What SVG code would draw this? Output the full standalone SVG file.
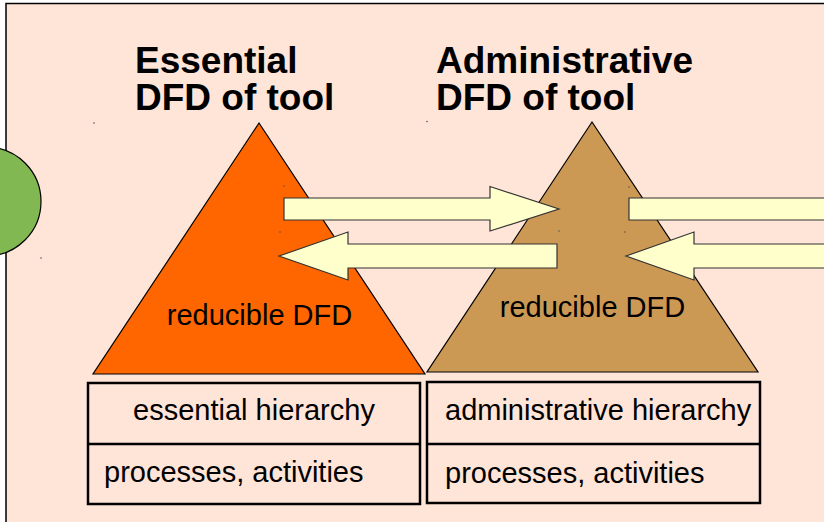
<svg xmlns="http://www.w3.org/2000/svg" width="824" height="522" viewBox="0 0 824 522">
<style>
.title{font-family:"Liberation Sans",Arial,sans-serif;font-weight:bold;font-size:37px;fill:#000}
.lbl{font-family:"Liberation Sans",Arial,sans-serif;font-size:29px;fill:#000}
.tri{stroke:#000;stroke-width:1.2;stroke-linejoin:miter}
.arrow{fill:#FFFFCC;stroke:#333;stroke-width:1.2;stroke-linejoin:miter}
.box{fill:none;stroke:#000;stroke-width:2.5}
.dot{fill:#555}
</style>
<rect x="0" y="0" width="824" height="522" fill="#fff"/>
<rect id="background" x="6" y="3.5" width="830" height="530" fill="#FFE4D8" stroke="#000" stroke-width="1.5"/>
<g id="circle">
<circle cx="-13.5" cy="201.5" r="54.5" fill="#81B851" stroke="#000" stroke-width="1.2"/>
</g>
<g id="essential-title">
<text class="title" x="135" y="73">Essential</text>
<text class="title" x="135" y="110">DFD of tool</text>
</g>
<g id="administrative-title">
<text class="title" x="436" y="73">Administrative</text>
<text class="title" x="436" y="110">DFD of tool</text>
</g>
<g id="essential-triangle">
<polygon class="tri" points="259,123 425,374 93,374" fill="#FF6600"/>
<text class="lbl" x="259.5" y="325" text-anchor="middle">reducible DFD</text>
</g>
<g id="administrative-triangle">
<polygon class="tri" points="592,122 758,372 427,372" fill="#CC9955"/>
<text class="lbl" x="592.5" y="317" text-anchor="middle">reducible DFD</text>
</g>
<g id="connectors">
<polygon class="arrow" points="284,198 490,198 490,186.5 559,209 490,231 490,220 284,220"/>
<polygon class="arrow" points="279,256 348,232 348,244 557,244 557,268 348,268 348,280"/>
<polygon class="arrow" points="629,198 860,198 860,220 629,220"/>
<polygon class="arrow" points="626,256 694,232 694,244 860,244 860,268 694,268 694,280"/>
</g>
<g id="essential-box">
<rect class="box" x="88" y="383" width="332" height="121"/>
<line class="box" x1="88" y1="444" x2="420" y2="444"/>
<text class="lbl" x="254" y="420" text-anchor="middle">essential hierarchy</text>
<text class="lbl" x="104" y="482">processes, activities</text>
</g>
<g id="administrative-box">
<rect class="box" x="427" y="382" width="333" height="121"/>
<line class="box" x1="427" y1="444" x2="760" y2="444"/>
<text class="lbl" x="445" y="420">administrative hierarchy</text>
<text class="lbl" x="445" y="483">processes, activities</text>
</g>
<g id="markers">
<circle class="dot" cx="94" cy="123" r="0.8"/>
<circle class="dot" cx="427" cy="121.5" r="0.8"/>
<circle class="dot" cx="41" cy="258" r="0.8"/>
<circle class="dot" cx="284" cy="186" r="0.8"/>
<circle class="dot" cx="280" cy="232" r="0.8"/>
<circle class="dot" cx="559" cy="231" r="0.8"/>
<circle class="dot" cx="629" cy="187" r="0.8"/>
<circle class="dot" cx="625" cy="232" r="0.8"/>
</g>
</svg>
